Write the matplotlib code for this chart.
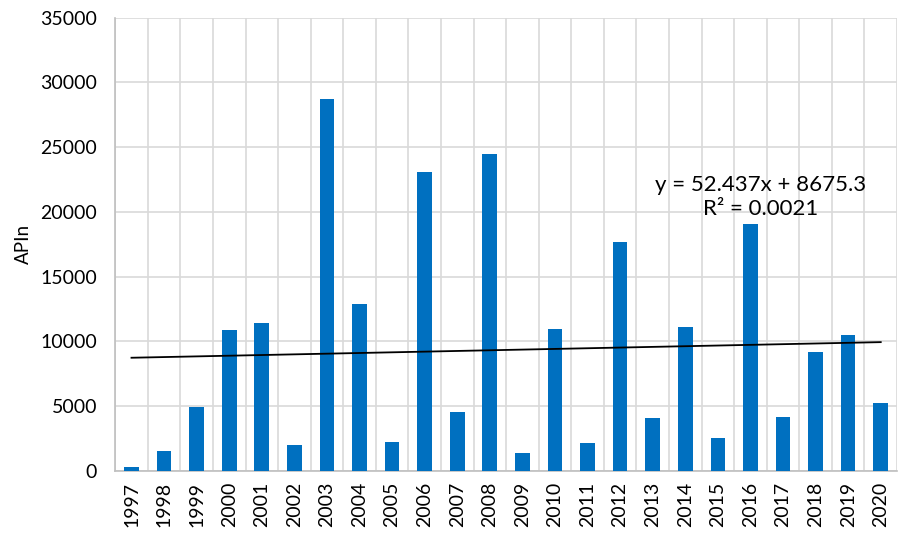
import matplotlib.pyplot as plt
import numpy as np

years = [str(y) for y in range(1997, 2021)]
apin = [250, 1550, 4900, 10850, 11400, 1950, 28700, 12900, 2200, 23050, 4500, 24500,
        1350, 10950, 2150, 17700, 4100, 11100, 2550, 19100, 4150, 9150, 10450, 5250]

# trendline as reported on the chart (x = 1..24)
slope = 52.437
intercept = 8675.3
r2 = 0.0021

plt.rcParams['font.family'] = ['Lato', 'DejaVu Sans']

fig = plt.figure(figsize=(9, 5.37), dpi=100)
ax = fig.add_axes([0.128, 0.1235, 0.8687, 0.8434])

x = np.arange(len(years))
ax.bar(x, apin, width=0.45, color='#0070C0', zorder=3)

xt = np.array([1, len(years)])
ax.plot(xt - 1, slope * xt + intercept, color='black', lw=1.3, zorder=4)

ax.text(19.3, 21150, 'y = %.3fx + %.1f\nR² = %.4f' % (slope, intercept, r2),
        ha='center', va='center', multialignment='center', fontsize=16,
        linespacing=1.3, zorder=5)

ax.set_xlim(-0.5, len(years) - 0.5)
ax.set_ylim(0, 35000)
ax.set_yticks(range(0, 35001, 5000))
ax.set_xticks(x)
ax.set_xticklabels(years, rotation=90)
ax.set_xticks(np.arange(-0.5, len(years)), minor=True)

ax.grid(True, which='major', axis='y', color='#d9d9d9', lw=1.2, zorder=0)
ax.grid(True, which='minor', axis='x', color='#d9d9d9', lw=1.2, zorder=0)
ax.tick_params(axis='both', which='both', length=0, labelsize=14)
ax.tick_params(axis='x', pad=8)
ax.tick_params(axis='y', pad=13)

for s in ['top', 'right']:
    ax.spines[s].set_visible(False)
ax.spines['left'].set_color('#bfbfbf')
ax.spines['bottom'].set_color('#bfbfbf')
ax.spines['left'].set_linewidth(1.2)
ax.spines['bottom'].set_linewidth(1.2)

ax.set_ylabel('APIn', fontsize=13.5, labelpad=6)

fig.savefig('out.png', dpi=100)
